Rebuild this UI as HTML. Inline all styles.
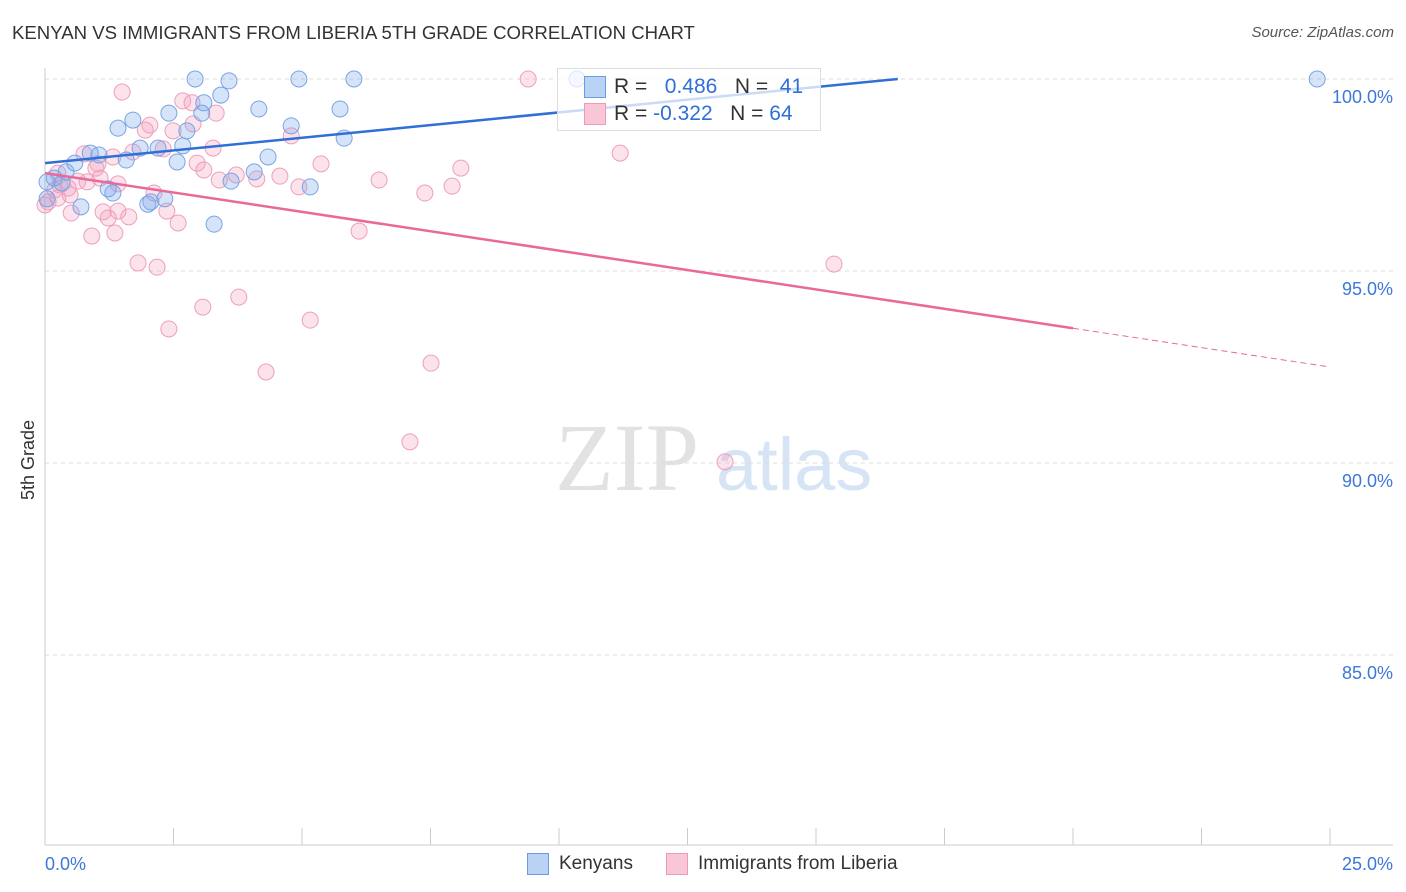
<!DOCTYPE html>
<html><head><meta charset="utf-8"><style>
body{margin:0;background:#fff;font-family:"Liberation Sans",sans-serif}
#wrap{position:relative;width:1406px;height:892px;overflow:hidden}
.t{position:absolute;white-space:nowrap}
</style></head><body>
<div id="wrap">
<div class="t" style="left:12px;top:22px;font-size:18.6px;color:#333">KENYAN VS IMMIGRANTS FROM LIBERIA 5TH GRADE CORRELATION CHART</div>
<div class="t" style="right:12px;top:24px;font-size:15px;color:#555;font-style:italic">Source: ZipAtlas.com</div>
<div class="t" style="left:8px;top:455px;font-size:18px;color:#333;transform:rotate(-90deg);transform-origin:left top"><span style="position:relative;top:10px;left:-45px">5th Grade</span></div>
<svg id="svg" width="1406" height="892" style="position:absolute;left:0;top:0"></svg>
<div class="t" style="left:557px;top:68px;width:262px;height:61px;border:1px solid #ddd;background:rgba(255,255,255,0.75);font-size:21px">
 <div style="position:absolute;left:26px;top:7px;width:20px;height:20px;background:#b9d3f5;border:1px solid #6c9be0"></div>
 <div style="position:absolute;left:26px;top:34px;width:20px;height:20px;background:#f8c6d6;border:1px solid #ec9ab8"></div>
 <div class="t" style="left:56px;top:6px;color:#333">R = <span style="color:#2f6fd6">&nbsp;&nbsp;0.486</span>&nbsp;&nbsp;&nbsp;N = <span style="color:#2f6fd6">&nbsp;41</span></div>
 <div class="t" style="left:56px;top:33px;color:#333">R = <span style="color:#2f6fd6">-0.322</span>&nbsp;&nbsp;&nbsp;N = <span style="color:#2f6fd6">64</span></div>
</div>
<div class="t" style="left:527px;top:853px;width:20px;height:20px;background:#b9d3f5;border:1px solid #6c9be0"></div>
<div class="t" style="left:559px;top:853px;font-size:19px;color:#333">Kenyans</div>
<div class="t" style="left:666px;top:853px;width:20px;height:20px;background:#f8c6d6;border:1px solid #ec9ab8"></div>
<div class="t" style="left:698px;top:853px;font-size:19px;color:#333">Immigrants from Liberia</div>
</div>
<script>
const blueX=[2.92,3.58,4.94,6.01,10.35,24.75,3.42,3.09,4.16,5.74,2.41,3.05,1.71,1.42,2.76,4.79,5.82,1.85,2.20,2.68,0.88,1.05,1.58,4.34,2.57,0.58,0.41,0.18,4.07,3.62,0.04,0.33,1.23,1.32,5.16,2.33,2.00,0.70,3.29,0.04,2.06];
const blueY=[100,99.95,100,100,100,100,99.58,99.38,99.22,99.22,99.11,99.11,98.93,98.72,98.65,98.78,98.46,98.20,98.20,98.26,98.07,98.02,97.89,97.97,97.84,97.81,97.58,97.42,97.58,97.34,97.32,97.29,97.14,97.03,97.19,96.88,96.74,96.67,96.22,96.88,96.80];
const pinkX=[9.40,1.50,2.68,2.86,3.33,2.04,2.49,1.95,2.88,4.79,3.27,2.30,1.71,11.19,0.76,1.32,1.03,0.99,2.96,5.37,8.09,3.09,0.25,3.72,4.57,4.12,3.39,0.64,1.42,6.50,4.94,7.92,0.45,7.39,2.12,0.82,0.25,0.06,1.42,1.13,2.37,0.51,1.63,2.59,6.11,1.36,0.91,1.81,2.18,15.35,3.77,3.07,5.16,2.41,7.51,4.30,7.10,13.23,0,0.19,1.23,0.49,0.29,1.07];
const pinkY=[100,99.66,99.43,99.38,99.11,98.80,98.65,98.67,98.83,98.52,98.20,98.18,98.10,98.07,98.05,97.97,97.79,97.68,97.81,97.79,97.68,97.63,97.55,97.50,97.47,97.40,97.37,97.34,97.27,97.37,97.19,97.21,97.16,97.03,97.03,97.32,96.90,96.80,96.56,96.54,96.56,96.51,96.41,96.25,96.04,95.99,95.91,95.21,95.10,95.18,94.32,94.06,93.72,93.49,92.60,92.37,90.55,90.03,96.72,97.11,96.38,96.98,97.24,97.42];
const blueTrend=[97.81,0.132];
const pinkTrend=[97.55,-0.202];
const yTicks=[100,95,90,85];
const xTicks=[0,2.5,5,7.5,10,12.5,15,17.5,20,22.5,25];
const X=v=>45+v*51.4, Y=v=>79+(100-v)*38.4;
const svg=document.getElementById('svg'),NS='http://www.w3.org/2000/svg';
function mk(t,a){const e=document.createElementNS(NS,t);for(const k in a)e.setAttribute(k,a[k]);svg.appendChild(e);return e;}
let w=mk('text',{x:555,y:490,'font-size':96,'font-family':'Liberation Serif',fill:'#e2e2e2'});w.textContent='ZIP';


w=mk('text',{x:716,y:490,'font-size':74,'font-family':'Liberation Sans',fill:'#d6e4f5'});w.textContent='atlas';


yTicks.forEach(v=>{let l=mk('line',{x1:45,x2:1393,y1:Y(v),y2:Y(v),stroke:'#ddd','stroke-dasharray':'4,4'});


let t=mk('text',{x:1393,y:Y(v)+24,'text-anchor':'end','font-size':18,fill:'#3b78d8','font-family':'Liberation Sans'});t.textContent=v.toFixed(1)+'%';

});
let ax=mk('line',{x1:45,x2:45,y1:68,y2:845,stroke:'#ccc'});


ax=mk('line',{x1:45,x2:1393,y1:845,y2:845,stroke:'#ccc'});


xTicks.forEach(v=>{let l=mk('line',{x1:X(v),x2:X(v),y1:828,y2:845,stroke:'#ccc'});

});
[[0,'start',45],[25,'end',1393]].forEach(([v,a,px])=>{let t=mk('text',{x:px,y:870,'text-anchor':a,'font-size':18,fill:'#3b78d8','font-family':'Liberation Sans'});t.textContent=v.toFixed(1)+'%';

});
function pts(xs,ys,fill,stroke,name){xs.forEach((x,i)=>{let c=mk('circle',{cx:X(x),cy:Y(ys[i]),r:8,fill:fill,stroke:stroke,'stroke-width':1});

});}
pts(pinkX,pinkY,'rgba(244,160,190,0.3)','#eca0bc','liberia-point');
pts(blueX,blueY,'rgba(120,165,235,0.3)','#7aa4e4','kenyan-point');
let xe=(100-blueTrend[0])/blueTrend[1];
let l=mk('line',{x1:X(0),y1:Y(blueTrend[0]),x2:X(xe),y2:Y(100),stroke:'#2f6fd6','stroke-width':2.5});


l=mk('line',{x1:X(0),y1:Y(pinkTrend[0]),x2:X(20),y2:Y(pinkTrend[0]+20*pinkTrend[1]),stroke:'#e8699a','stroke-width':2.5});


l=mk('line',{x1:X(20),y1:Y(pinkTrend[0]+20*pinkTrend[1]),x2:X(25),y2:Y(pinkTrend[0]+25*pinkTrend[1]),stroke:'#e8699a','stroke-width':1,'stroke-dasharray':'6,4'});


</script>
</body></html>
